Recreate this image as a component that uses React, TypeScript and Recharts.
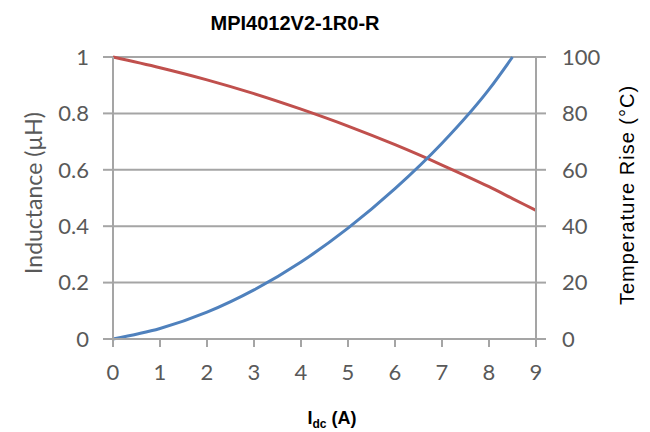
import React from 'react';
import { LineChart, Line, XAxis, YAxis, CartesianGrid } from 'recharts';

// DC current (A) and the two curves
const currents = [0, 1, 2, 3, 4, 5, 6, 7, 8, 8.5, 9];
const inductance = [1.0, 0.962, 0.919, 0.87, 0.815, 0.755, 0.689, 0.617, 0.54, 0.498, 0.456];
const tempRise = [0, 3.7, 9.5, 17.4, 27.3, 39.3, 53.3, 69.4, 88.5, 100, null];

const currentTicks = [0, 1, 2, 3, 4, 5, 6, 7, 8, 9];
const inductanceTicks = [0, 0.2, 0.4, 0.6, 0.8, 1];
const tempTicks = [0, 20, 40, 60, 80, 100];

const data = currents.map((x, i) => ({ x, l: inductance[i], t: tempRise[i] }));

const gray = '#a5a5a5';
const tickFont = { fill: '#595959', fontSize: 22, fontFamily: 'Lato, sans-serif' };

export default function App() {
  return (
    <div style={{ position: 'absolute', left: 0, top: 0, width: 650, height: 432, background: '#fff' }}>
      <LineChart width={650} height={432} data={data} margin={{ top: 57, right: 0, bottom: 0, left: 0 }}>
        <CartesianGrid vertical={false} stroke={gray} strokeWidth={2} yAxisId="l" />
        <XAxis
          dataKey="x"
          type="number"
          domain={[0, 9]}
          ticks={currentTicks}
          height={93}
          tickSize={8}
          tickMargin={17}
          stroke={gray}
          strokeWidth={2}
          tick={tickFont}
          interval={0}
        />
        <YAxis
          yAxisId="l"
          domain={[0, 1]}
          ticks={inductanceTicks}
          width={113}
          tickSize={10}
          tickMargin={14}
          stroke={gray}
          strokeWidth={2}
          tick={tickFont}
          interval={0}
        />
        <YAxis
          yAxisId="t"
          orientation="right"
          domain={[0, 100]}
          ticks={tempTicks}
          width={114}
          tickSize={10}
          tickMargin={16}
          stroke={gray}
          strokeWidth={2}
          tick={tickFont}
          interval={0}
        />
        <Line yAxisId="l" dataKey="l" type="monotone" stroke="#C0504D" strokeWidth={3} dot={false} isAnimationActive={false} />
        <Line yAxisId="t" dataKey="t" type="monotone" stroke="#4F81BD" strokeWidth={3} dot={false} isAnimationActive={false} />
        <text x={295} y={30} textAnchor="middle" fontFamily="Liberation Sans, Arial, sans-serif" fontWeight="bold" fontSize={20} fill="#000">
          MPI4012V2-1R0-R
        </text>
        <text
          transform="translate(42, 193) rotate(-90)"
          textAnchor="middle"
          fontFamily="Lato, sans-serif"
          fontSize={23}
          fill="#595959"
        >
          Inductance (µH)
        </text>
        <text
          transform="translate(634, 195) rotate(-90)"
          textAnchor="middle"
          fontFamily="Liberation Sans, Arial, sans-serif"
          fontSize={20}
          letterSpacing={1}
          fill="#000"
        >
          Temperature Rise (°C)
        </text>
        <text x={332} y={424} textAnchor="middle" fontFamily="Liberation Sans, Arial, sans-serif" fontWeight="bold" fontSize={18} fill="#000">
          <tspan>I</tspan>
          <tspan fontSize={12} dy={4}>dc</tspan>
          <tspan dy={-4}> (A)</tspan>
        </text>
      </LineChart>
    </div>
  );
}
